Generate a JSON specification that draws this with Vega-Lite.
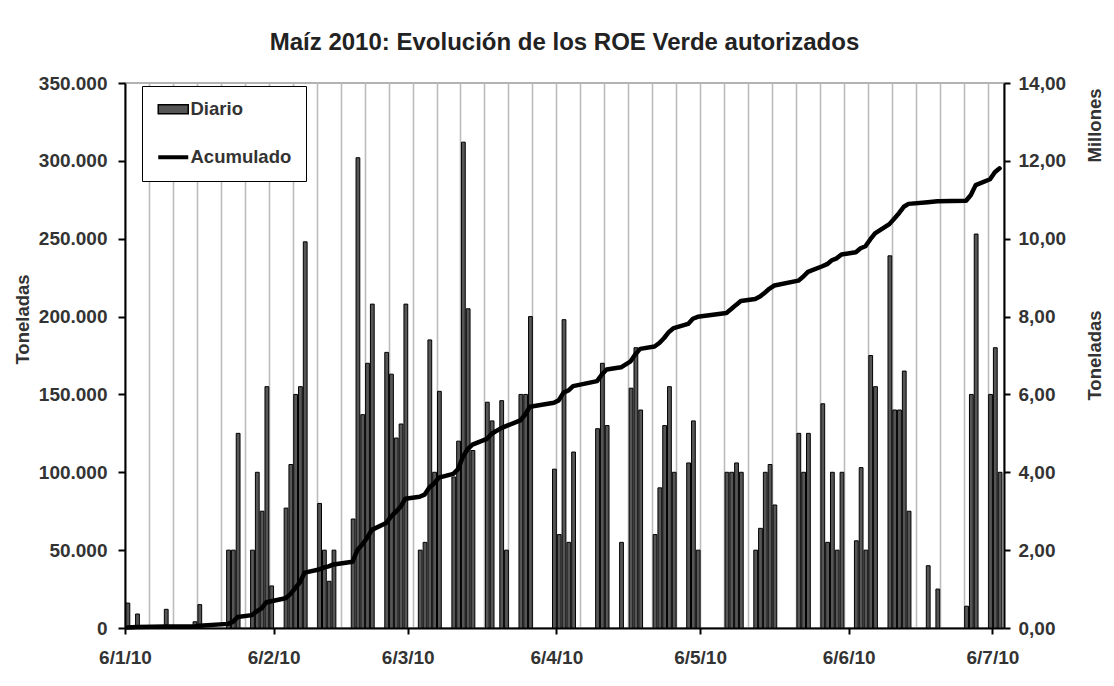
{
  "$schema": "https://vega.github.io/schema/vega-lite/v6.json",
  "width": 879,
  "height": 545,
  "autosize": {"type": "none"},
  "padding": {"left": 125, "top": 83, "right": 110, "bottom": 58},
  "background": "white",
  "title": {
    "text": "Maíz 2010: Evolución de los ROE Verde autorizados",
    "font": "Liberation Sans, Arial, sans-serif",
    "fontSize": 24,
    "fontWeight": "bold",
    "color": "#222222",
    "anchor": "middle",
    "baseline": "alphabetic",
    "offset": 0
  },
  "config": {
    "locale": {"number": {"decimal": ",", "thousands": ".", "grouping": [3], "currency": ["$", ""]}},
    "view": {"stroke": "#9a9a9a", "strokeWidth": 1.5},
    "font": "Liberation Sans, Arial, sans-serif",
    "axis": {
      "labelFont": "Liberation Sans, Arial, sans-serif",
      "labelFontSize": 19,
      "labelFontWeight": "bold",
      "labelColor": "#333333",
      "titleFont": "Liberation Sans, Arial, sans-serif",
      "titleFontSize": 18.5,
      "titleFontWeight": "bold",
      "titleColor": "#333333",
      "domainColor": "black",
      "domainWidth": 2,
      "tickColor": "black",
      "tickWidth": 2,
      "grid": false,
      "labelFlush": false,
      "labelOverlap": false
    },
    "legend": {
      "labelFont": "Liberation Sans, Arial, sans-serif"
    }
  },
  "data": {
    "values": [
      {"fecha": "2010-01-06", "diario": 16000, "acumulado": 0.016},
      {"fecha": "2010-01-08", "diario": 9000, "acumulado": 0.025},
      {"fecha": "2010-01-14", "diario": 12000, "acumulado": 0.037},
      {"fecha": "2010-01-20", "diario": 4000, "acumulado": 0.041},
      {"fecha": "2010-01-21", "diario": 15000, "acumulado": 0.056},
      {"fecha": "2010-01-27", "diario": 50000, "acumulado": 0.106},
      {"fecha": "2010-01-28", "diario": 50000, "acumulado": 0.156},
      {"fecha": "2010-01-29", "diario": 125000, "acumulado": 0.281},
      {"fecha": "2010-02-01", "diario": 50000, "acumulado": 0.331},
      {"fecha": "2010-02-02", "diario": 100000, "acumulado": 0.431},
      {"fecha": "2010-02-03", "diario": 75000, "acumulado": 0.506},
      {"fecha": "2010-02-04", "diario": 155000, "acumulado": 0.661},
      {"fecha": "2010-02-05", "diario": 27000, "acumulado": 0.688},
      {"fecha": "2010-02-08", "diario": 77000, "acumulado": 0.765},
      {"fecha": "2010-02-09", "diario": 105000, "acumulado": 0.870},
      {"fecha": "2010-02-10", "diario": 150000, "acumulado": 1.020},
      {"fecha": "2010-02-11", "diario": 155000, "acumulado": 1.175},
      {"fecha": "2010-02-12", "diario": 248000, "acumulado": 1.423},
      {"fecha": "2010-02-15", "diario": 80000, "acumulado": 1.503},
      {"fecha": "2010-02-16", "diario": 50000, "acumulado": 1.553},
      {"fecha": "2010-02-17", "diario": 30000, "acumulado": 1.583},
      {"fecha": "2010-02-18", "diario": 50000, "acumulado": 1.633},
      {"fecha": "2010-02-22", "diario": 70000, "acumulado": 1.703},
      {"fecha": "2010-02-23", "diario": 302000, "acumulado": 2.005},
      {"fecha": "2010-02-24", "diario": 137000, "acumulado": 2.142},
      {"fecha": "2010-02-25", "diario": 170000, "acumulado": 2.312},
      {"fecha": "2010-02-26", "diario": 208000, "acumulado": 2.520},
      {"fecha": "2010-03-01", "diario": 177000, "acumulado": 2.697},
      {"fecha": "2010-03-02", "diario": 163000, "acumulado": 2.860},
      {"fecha": "2010-03-03", "diario": 122000, "acumulado": 2.982},
      {"fecha": "2010-03-04", "diario": 131000, "acumulado": 3.113},
      {"fecha": "2010-03-05", "diario": 208000, "acumulado": 3.321},
      {"fecha": "2010-03-08", "diario": 50000, "acumulado": 3.371},
      {"fecha": "2010-03-09", "diario": 55000, "acumulado": 3.426},
      {"fecha": "2010-03-10", "diario": 185000, "acumulado": 3.611},
      {"fecha": "2010-03-11", "diario": 100000, "acumulado": 3.711},
      {"fecha": "2010-03-12", "diario": 152000, "acumulado": 3.863},
      {"fecha": "2010-03-15", "diario": 97000, "acumulado": 3.960},
      {"fecha": "2010-03-16", "diario": 120000, "acumulado": 4.080},
      {"fecha": "2010-03-17", "diario": 312000, "acumulado": 4.392},
      {"fecha": "2010-03-18", "diario": 205000, "acumulado": 4.597},
      {"fecha": "2010-03-19", "diario": 114000, "acumulado": 4.711},
      {"fecha": "2010-03-22", "diario": 145000, "acumulado": 4.856},
      {"fecha": "2010-03-23", "diario": 133000, "acumulado": 4.989},
      {"fecha": "2010-03-25", "diario": 146000, "acumulado": 5.135},
      {"fecha": "2010-03-26", "diario": 50000, "acumulado": 5.185},
      {"fecha": "2010-03-29", "diario": 150000, "acumulado": 5.335},
      {"fecha": "2010-03-30", "diario": 150000, "acumulado": 5.485},
      {"fecha": "2010-03-31", "diario": 200000, "acumulado": 5.685},
      {"fecha": "2010-04-05", "diario": 102000, "acumulado": 5.787},
      {"fecha": "2010-04-06", "diario": 60000, "acumulado": 5.847},
      {"fecha": "2010-04-07", "diario": 198000, "acumulado": 6.045},
      {"fecha": "2010-04-08", "diario": 55000, "acumulado": 6.100},
      {"fecha": "2010-04-09", "diario": 113000, "acumulado": 6.213},
      {"fecha": "2010-04-14", "diario": 128000, "acumulado": 6.341},
      {"fecha": "2010-04-15", "diario": 170000, "acumulado": 6.511},
      {"fecha": "2010-04-16", "diario": 130000, "acumulado": 6.641},
      {"fecha": "2010-04-19", "diario": 55000, "acumulado": 6.696},
      {"fecha": "2010-04-21", "diario": 154000, "acumulado": 6.850},
      {"fecha": "2010-04-22", "diario": 180000, "acumulado": 7.030},
      {"fecha": "2010-04-23", "diario": 140000, "acumulado": 7.170},
      {"fecha": "2010-04-26", "diario": 60000, "acumulado": 7.230},
      {"fecha": "2010-04-27", "diario": 90000, "acumulado": 7.320},
      {"fecha": "2010-04-28", "diario": 130000, "acumulado": 7.450},
      {"fecha": "2010-04-29", "diario": 155000, "acumulado": 7.605},
      {"fecha": "2010-04-30", "diario": 100000, "acumulado": 7.705},
      {"fecha": "2010-05-03", "diario": 106000, "acumulado": 7.811},
      {"fecha": "2010-05-04", "diario": 133000, "acumulado": 7.944},
      {"fecha": "2010-05-05", "diario": 50000, "acumulado": 7.994},
      {"fecha": "2010-05-11", "diario": 100000, "acumulado": 8.094},
      {"fecha": "2010-05-12", "diario": 100000, "acumulado": 8.194},
      {"fecha": "2010-05-13", "diario": 106000, "acumulado": 8.300},
      {"fecha": "2010-05-14", "diario": 100000, "acumulado": 8.400},
      {"fecha": "2010-05-17", "diario": 50000, "acumulado": 8.450},
      {"fecha": "2010-05-18", "diario": 64000, "acumulado": 8.514},
      {"fecha": "2010-05-19", "diario": 100000, "acumulado": 8.614},
      {"fecha": "2010-05-20", "diario": 105000, "acumulado": 8.719},
      {"fecha": "2010-05-21", "diario": 79000, "acumulado": 8.798},
      {"fecha": "2010-05-26", "diario": 125000, "acumulado": 8.923},
      {"fecha": "2010-05-27", "diario": 100000, "acumulado": 9.023},
      {"fecha": "2010-05-28", "diario": 125000, "acumulado": 9.148},
      {"fecha": "2010-05-31", "diario": 144000, "acumulado": 9.292},
      {"fecha": "2010-06-01", "diario": 55000, "acumulado": 9.347},
      {"fecha": "2010-06-02", "diario": 100000, "acumulado": 9.447},
      {"fecha": "2010-06-03", "diario": 50000, "acumulado": 9.497},
      {"fecha": "2010-06-04", "diario": 100000, "acumulado": 9.597},
      {"fecha": "2010-06-07", "diario": 56000, "acumulado": 9.653},
      {"fecha": "2010-06-08", "diario": 103000, "acumulado": 9.756},
      {"fecha": "2010-06-09", "diario": 50000, "acumulado": 9.806},
      {"fecha": "2010-06-10", "diario": 175000, "acumulado": 9.981},
      {"fecha": "2010-06-11", "diario": 155000, "acumulado": 10.136},
      {"fecha": "2010-06-14", "diario": 239000, "acumulado": 10.375},
      {"fecha": "2010-06-15", "diario": 140000, "acumulado": 10.515},
      {"fecha": "2010-06-16", "diario": 140000, "acumulado": 10.655},
      {"fecha": "2010-06-17", "diario": 165000, "acumulado": 10.820},
      {"fecha": "2010-06-18", "diario": 75000, "acumulado": 10.895},
      {"fecha": "2010-06-22", "diario": 40000, "acumulado": 10.935},
      {"fecha": "2010-06-24", "diario": 25000, "acumulado": 10.960},
      {"fecha": "2010-06-30", "diario": 14000, "acumulado": 10.974},
      {"fecha": "2010-07-01", "diario": 150000, "acumulado": 11.124},
      {"fecha": "2010-07-02", "diario": 253000, "acumulado": 11.377},
      {"fecha": "2010-07-05", "diario": 150000, "acumulado": 11.527},
      {"fecha": "2010-07-06", "diario": 180000, "acumulado": 11.707},
      {"fecha": "2010-07-07", "diario": 100000, "acumulado": 11.807}
    ]
  },
  "layer": [
    {
      "mark": {"type": "bar", "stroke": "black", "strokeWidth": 1},
      "encoding": {
        "x": {
          "field": "fecha",
          "type": "temporal",
          "timeUnit": "utcyearmonthdate",
          "scale": {"domain": [{"year": 2010, "month": 1, "date": 6, "utc": true}, {"year": 2010, "month": 7, "date": 8, "hours": 10, "utc": true}]},
          "axis": {
            "orient": "top",
            "grid": true,
            "gridColor": "#bcbcbc",
            "gridWidth": 1.6,
            "labels": false,
            "ticks": false,
            "domain": false,
            "title": null,
            "values": [
              {"year": 2010, "month": 1, "date": 11, "utc": true},
              {"year": 2010, "month": 1, "date": 16, "utc": true},
              {"year": 2010, "month": 1, "date": 21, "utc": true},
              {"year": 2010, "month": 1, "date": 26, "utc": true},
              {"year": 2010, "month": 1, "date": 31, "utc": true},
              {"year": 2010, "month": 2, "date": 5, "utc": true},
              {"year": 2010, "month": 2, "date": 10, "utc": true},
              {"year": 2010, "month": 2, "date": 15, "utc": true},
              {"year": 2010, "month": 2, "date": 20, "utc": true},
              {"year": 2010, "month": 2, "date": 25, "utc": true},
              {"year": 2010, "month": 3, "date": 2, "utc": true},
              {"year": 2010, "month": 3, "date": 7, "utc": true},
              {"year": 2010, "month": 3, "date": 12, "utc": true},
              {"year": 2010, "month": 3, "date": 17, "utc": true},
              {"year": 2010, "month": 3, "date": 22, "utc": true},
              {"year": 2010, "month": 3, "date": 27, "utc": true},
              {"year": 2010, "month": 4, "date": 1, "utc": true},
              {"year": 2010, "month": 4, "date": 6, "utc": true},
              {"year": 2010, "month": 4, "date": 11, "utc": true},
              {"year": 2010, "month": 4, "date": 16, "utc": true},
              {"year": 2010, "month": 4, "date": 21, "utc": true},
              {"year": 2010, "month": 4, "date": 26, "utc": true},
              {"year": 2010, "month": 5, "date": 1, "utc": true},
              {"year": 2010, "month": 5, "date": 6, "utc": true},
              {"year": 2010, "month": 5, "date": 11, "utc": true},
              {"year": 2010, "month": 5, "date": 16, "utc": true},
              {"year": 2010, "month": 5, "date": 21, "utc": true},
              {"year": 2010, "month": 5, "date": 26, "utc": true},
              {"year": 2010, "month": 5, "date": 31, "utc": true},
              {"year": 2010, "month": 6, "date": 5, "utc": true},
              {"year": 2010, "month": 6, "date": 10, "utc": true},
              {"year": 2010, "month": 6, "date": 15, "utc": true},
              {"year": 2010, "month": 6, "date": 20, "utc": true},
              {"year": 2010, "month": 6, "date": 25, "utc": true},
              {"year": 2010, "month": 6, "date": 30, "utc": true},
              {"year": 2010, "month": 7, "date": 5, "utc": true}
            ]
          }
        },
        "y": {
          "field": "diario",
          "type": "quantitative",
          "scale": {"domain": [0, 350000]},
          "axis": {
            "orient": "left",
            "values": [0, 50000, 100000, 150000, 200000, 250000, 300000, 350000],
            "format": ",d",
            "tickSize": 7,
            "labelPadding": 11,
            "title": "Toneladas",
            "titleAngle": -90,
            "titleAlign": "center",
            "titleBaseline": "middle",
            "titleX": -103,
            "titleY": 236
          }
        },
        "color": {
          "datum": "Diario",
          "type": "nominal",
          "scale": {"domain": ["Diario", "Acumulado"], "range": ["#565656", "#000000"]},
          "legend": {
            "title": null,
            "orient": "none",
            "legendX": 17,
            "legendY": 3,
            "strokeColor": "black",
            "fillColor": "white",
            "padding": 14,
            "cornerRadius": 0,
            "symbolSize": 900,
            "symbolOffset": 8,
            "rowPadding": 29,
            "labelOffset": 8,
            "labelFontSize": 18.5,
            "labelFontWeight": "bold",
            "labelColor": "#333333",
            "encoding": {
              "symbols": {
                "shape": {"value": {"expr": "datum.value === 'Diario' ? 'M-1,-0.3H1V0.3H-1Z' : 'M-1,0H1'"}},
                "fill": {"value": {"expr": "datum.value === 'Diario' ? '#7a7a7a' : 'transparent'"}},
                "stroke": {"value": "black"},
                "strokeWidth": {"value": {"expr": "datum.value === 'Diario' ? 1.5 : 4"}},
                "opacity": {"value": 1}
              }
            }
          }
        }
      }
    },
    {
      "mark": {"type": "line", "color": "black", "strokeWidth": 4.5, "strokeJoin": "round", "strokeCap": "round"},
      "encoding": {
        "x": {
          "field": "fecha",
          "type": "temporal",
          "timeUnit": "utcyearmonthdate",
          "bandPosition": 0.5,
          "axis": {
            "orient": "bottom",
            "format": "%-d/%-m/%y",
            "tickSize": 6,
            "labelPadding": 14,
            "title": null,
            "values": [
              {"year": 2010, "month": 1, "date": 6, "utc": true},
              {"year": 2010, "month": 2, "date": 6, "utc": true},
              {"year": 2010, "month": 3, "date": 6, "utc": true},
              {"year": 2010, "month": 4, "date": 6, "utc": true},
              {"year": 2010, "month": 5, "date": 6, "utc": true},
              {"year": 2010, "month": 6, "date": 6, "utc": true},
              {"year": 2010, "month": 7, "date": 6, "utc": true}
            ]
          }
        },
        "y": {
          "field": "acumulado",
          "type": "quantitative",
          "scale": {"domain": [0, 14]},
          "axis": {
            "orient": "right",
            "values": [0, 2, 4, 6, 8, 10, 12, 14],
            "format": ",.2f",
            "tickSize": 6,
            "labelPadding": 8,
            "title": "Toneladas",
            "titleAngle": -90,
            "titleAlign": "center",
            "titleBaseline": "middle",
            "titleX": 90,
            "titleY": 272
          }
        }
      }
    },
    {
      "data": {"values": []},
      "mark": {"type": "point", "opacity": 0},
      "encoding": {
        "y": {
          "field": "acumulado",
          "type": "quantitative",
          "scale": {"domain": [0, 14]},
          "axis": {
            "orient": "right",
            "labels": false,
            "ticks": false,
            "domain": false,
            "grid": false,
            "title": "Millones",
            "titleAngle": -90,
            "titleAlign": "center",
            "titleBaseline": "middle",
            "titleX": 90,
            "titleY": 42
          }
        }
      }
    }
  ],
  "resolve": {"scale": {"y": "independent"}}
}
